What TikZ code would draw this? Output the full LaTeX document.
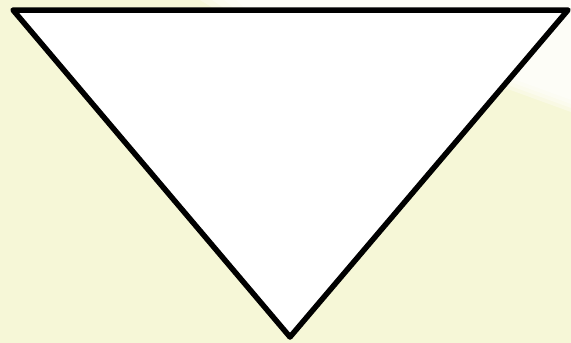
\documentclass[tikz,border=0pt]{standalone}
\usetikzlibrary{fadings}
\definecolor{bgyellow}{RGB}{246,247,215}
\tikzset{
  tri/.style={draw=black, line width=5.5pt, fill=white, line join=round},
  glow/.style={fill=white, opacity=0.35}
}
\begin{document}
\begin{tikzpicture}[x=1pt,y=-1pt]
\useasboundingbox (0,0) rectangle (571,343);
\fill[bgyellow] (0,0) rectangle (571,343);
% soft white glow at top right
\foreach \d in {0,4,8,12}{
  \fill[glow] (200+\d*3,0) -- (571,0) -- (571,112-\d) -- (505,88-\d) -- (300,60) -- cycle;
}
\coordinate (tl) at (13,10);
\coordinate (tr) at (568,10);
\coordinate (b) at (290,337);
\draw[tri] (tl) -- (tr) -- (b) -- cycle;
\end{tikzpicture}
\end{document}
